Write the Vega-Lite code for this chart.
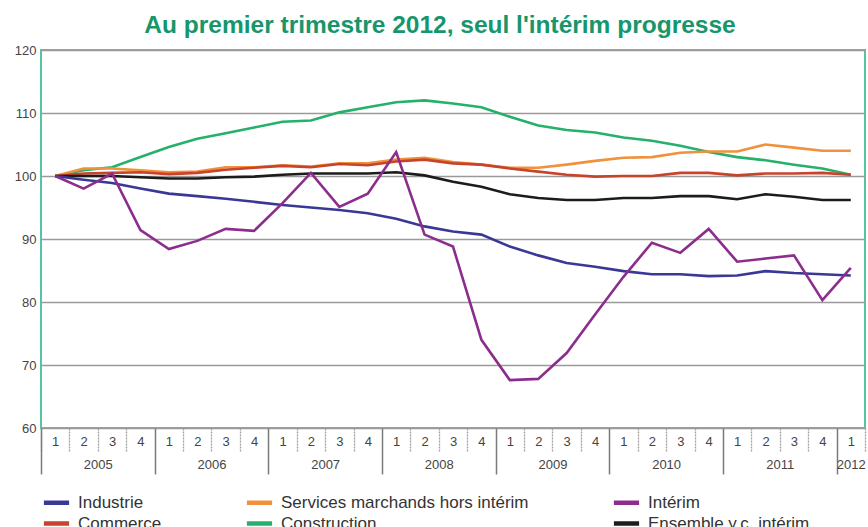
{
  "$schema": "https://vega.github.io/schema/vega-lite/v6.json",
  "width": 824,
  "height": 378,
  "autosize": {"type": "none"},
  "padding": {"left": 41, "top": 50, "right": 3, "bottom": 99},
  "background": "white",
  "title": {
    "text": "Au premier trimestre 2012, seul l'intérim progresse",
    "font": "Liberation Sans",
    "fontSize": 24.5,
    "fontWeight": "bold",
    "color": "#17966b",
    "anchor": "middle",
    "offset": 6,
    "dx": -13
  },
  "config": {
    "view": {"stroke": "#56c4a4", "strokeWidth": 2},
    "axis": {"labelFont": "Liberation Sans", "labelColor": "#444", "labelFontSize": 13}
  },
  "data": {
    "values": [
      {"serie": "Construction", "i": 0, "v": 100}, {"serie": "Construction", "i": 1, "v": 100.9}, {"serie": "Construction", "i": 2, "v": 101.4}, {"serie": "Construction", "i": 3, "v": 103.0}, {"serie": "Construction", "i": 4, "v": 104.6}, {"serie": "Construction", "i": 5, "v": 105.9}, {"serie": "Construction", "i": 6, "v": 106.8}, {"serie": "Construction", "i": 7, "v": 107.7}, {"serie": "Construction", "i": 8, "v": 108.6}, {"serie": "Construction", "i": 9, "v": 108.8}, {"serie": "Construction", "i": 10, "v": 110.1}, {"serie": "Construction", "i": 11, "v": 110.9}, {"serie": "Construction", "i": 12, "v": 111.7}, {"serie": "Construction", "i": 13, "v": 112.0}, {"serie": "Construction", "i": 14, "v": 111.5}, {"serie": "Construction", "i": 15, "v": 110.9}, {"serie": "Construction", "i": 16, "v": 109.4}, {"serie": "Construction", "i": 17, "v": 108.0}, {"serie": "Construction", "i": 18, "v": 107.3}, {"serie": "Construction", "i": 19, "v": 106.9}, {"serie": "Construction", "i": 20, "v": 106.1}, {"serie": "Construction", "i": 21, "v": 105.6}, {"serie": "Construction", "i": 22, "v": 104.8}, {"serie": "Construction", "i": 23, "v": 103.8}, {"serie": "Construction", "i": 24, "v": 103.0}, {"serie": "Construction", "i": 25, "v": 102.5}, {"serie": "Construction", "i": 26, "v": 101.8}, {"serie": "Construction", "i": 27, "v": 101.2}, {"serie": "Construction", "i": 28, "v": 100.2},
      {"serie": "Services marchands hors intérim", "i": 0, "v": 100}, {"serie": "Services marchands hors intérim", "i": 1, "v": 101.2}, {"serie": "Services marchands hors intérim", "i": 2, "v": 101.2}, {"serie": "Services marchands hors intérim", "i": 3, "v": 100.9}, {"serie": "Services marchands hors intérim", "i": 4, "v": 100.6}, {"serie": "Services marchands hors intérim", "i": 5, "v": 100.7}, {"serie": "Services marchands hors intérim", "i": 6, "v": 101.4}, {"serie": "Services marchands hors intérim", "i": 7, "v": 101.4}, {"serie": "Services marchands hors intérim", "i": 8, "v": 101.7}, {"serie": "Services marchands hors intérim", "i": 9, "v": 101.5}, {"serie": "Services marchands hors intérim", "i": 10, "v": 102.0}, {"serie": "Services marchands hors intérim", "i": 11, "v": 102.0}, {"serie": "Services marchands hors intérim", "i": 12, "v": 102.6}, {"serie": "Services marchands hors intérim", "i": 13, "v": 102.9}, {"serie": "Services marchands hors intérim", "i": 14, "v": 102.2}, {"serie": "Services marchands hors intérim", "i": 15, "v": 101.8}, {"serie": "Services marchands hors intérim", "i": 16, "v": 101.3}, {"serie": "Services marchands hors intérim", "i": 17, "v": 101.3}, {"serie": "Services marchands hors intérim", "i": 18, "v": 101.8}, {"serie": "Services marchands hors intérim", "i": 19, "v": 102.4}, {"serie": "Services marchands hors intérim", "i": 20, "v": 102.9}, {"serie": "Services marchands hors intérim", "i": 21, "v": 103.0}, {"serie": "Services marchands hors intérim", "i": 22, "v": 103.7}, {"serie": "Services marchands hors intérim", "i": 23, "v": 103.9}, {"serie": "Services marchands hors intérim", "i": 24, "v": 103.9}, {"serie": "Services marchands hors intérim", "i": 25, "v": 105.0}, {"serie": "Services marchands hors intérim", "i": 26, "v": 104.5}, {"serie": "Services marchands hors intérim", "i": 27, "v": 104.0}, {"serie": "Services marchands hors intérim", "i": 28, "v": 104.0},
      {"serie": "Commerce", "i": 0, "v": 100}, {"serie": "Commerce", "i": 1, "v": 100.4}, {"serie": "Commerce", "i": 2, "v": 100.5}, {"serie": "Commerce", "i": 3, "v": 100.6}, {"serie": "Commerce", "i": 4, "v": 100.3}, {"serie": "Commerce", "i": 5, "v": 100.5}, {"serie": "Commerce", "i": 6, "v": 101.0}, {"serie": "Commerce", "i": 7, "v": 101.3}, {"serie": "Commerce", "i": 8, "v": 101.6}, {"serie": "Commerce", "i": 9, "v": 101.4}, {"serie": "Commerce", "i": 10, "v": 101.9}, {"serie": "Commerce", "i": 11, "v": 101.7}, {"serie": "Commerce", "i": 12, "v": 102.3}, {"serie": "Commerce", "i": 13, "v": 102.6}, {"serie": "Commerce", "i": 14, "v": 102.0}, {"serie": "Commerce", "i": 15, "v": 101.8}, {"serie": "Commerce", "i": 16, "v": 101.2}, {"serie": "Commerce", "i": 17, "v": 100.7}, {"serie": "Commerce", "i": 18, "v": 100.2}, {"serie": "Commerce", "i": 19, "v": 99.9}, {"serie": "Commerce", "i": 20, "v": 100.0}, {"serie": "Commerce", "i": 21, "v": 100.0}, {"serie": "Commerce", "i": 22, "v": 100.5}, {"serie": "Commerce", "i": 23, "v": 100.5}, {"serie": "Commerce", "i": 24, "v": 100.1}, {"serie": "Commerce", "i": 25, "v": 100.4}, {"serie": "Commerce", "i": 26, "v": 100.4}, {"serie": "Commerce", "i": 27, "v": 100.5}, {"serie": "Commerce", "i": 28, "v": 100.2},
      {"serie": "Ensemble y.c. intérim", "i": 0, "v": 100}, {"serie": "Ensemble y.c. intérim", "i": 1, "v": 100.0}, {"serie": "Ensemble y.c. intérim", "i": 2, "v": 100.0}, {"serie": "Ensemble y.c. intérim", "i": 3, "v": 99.8}, {"serie": "Ensemble y.c. intérim", "i": 4, "v": 99.6}, {"serie": "Ensemble y.c. intérim", "i": 5, "v": 99.6}, {"serie": "Ensemble y.c. intérim", "i": 6, "v": 99.8}, {"serie": "Ensemble y.c. intérim", "i": 7, "v": 99.9}, {"serie": "Ensemble y.c. intérim", "i": 8, "v": 100.2}, {"serie": "Ensemble y.c. intérim", "i": 9, "v": 100.4}, {"serie": "Ensemble y.c. intérim", "i": 10, "v": 100.4}, {"serie": "Ensemble y.c. intérim", "i": 11, "v": 100.4}, {"serie": "Ensemble y.c. intérim", "i": 12, "v": 100.6}, {"serie": "Ensemble y.c. intérim", "i": 13, "v": 100.1}, {"serie": "Ensemble y.c. intérim", "i": 14, "v": 99.1}, {"serie": "Ensemble y.c. intérim", "i": 15, "v": 98.3}, {"serie": "Ensemble y.c. intérim", "i": 16, "v": 97.1}, {"serie": "Ensemble y.c. intérim", "i": 17, "v": 96.5}, {"serie": "Ensemble y.c. intérim", "i": 18, "v": 96.2}, {"serie": "Ensemble y.c. intérim", "i": 19, "v": 96.2}, {"serie": "Ensemble y.c. intérim", "i": 20, "v": 96.5}, {"serie": "Ensemble y.c. intérim", "i": 21, "v": 96.5}, {"serie": "Ensemble y.c. intérim", "i": 22, "v": 96.8}, {"serie": "Ensemble y.c. intérim", "i": 23, "v": 96.8}, {"serie": "Ensemble y.c. intérim", "i": 24, "v": 96.3}, {"serie": "Ensemble y.c. intérim", "i": 25, "v": 97.1}, {"serie": "Ensemble y.c. intérim", "i": 26, "v": 96.7}, {"serie": "Ensemble y.c. intérim", "i": 27, "v": 96.2}, {"serie": "Ensemble y.c. intérim", "i": 28, "v": 96.2},
      {"serie": "Industrie", "i": 0, "v": 100}, {"serie": "Industrie", "i": 1, "v": 99.4}, {"serie": "Industrie", "i": 2, "v": 98.9}, {"serie": "Industrie", "i": 3, "v": 98.0}, {"serie": "Industrie", "i": 4, "v": 97.2}, {"serie": "Industrie", "i": 5, "v": 96.8}, {"serie": "Industrie", "i": 6, "v": 96.4}, {"serie": "Industrie", "i": 7, "v": 95.9}, {"serie": "Industrie", "i": 8, "v": 95.4}, {"serie": "Industrie", "i": 9, "v": 95.0}, {"serie": "Industrie", "i": 10, "v": 94.6}, {"serie": "Industrie", "i": 11, "v": 94.1}, {"serie": "Industrie", "i": 12, "v": 93.2}, {"serie": "Industrie", "i": 13, "v": 92.0}, {"serie": "Industrie", "i": 14, "v": 91.2}, {"serie": "Industrie", "i": 15, "v": 90.7}, {"serie": "Industrie", "i": 16, "v": 88.8}, {"serie": "Industrie", "i": 17, "v": 87.4}, {"serie": "Industrie", "i": 18, "v": 86.2}, {"serie": "Industrie", "i": 19, "v": 85.6}, {"serie": "Industrie", "i": 20, "v": 84.9}, {"serie": "Industrie", "i": 21, "v": 84.4}, {"serie": "Industrie", "i": 22, "v": 84.4}, {"serie": "Industrie", "i": 23, "v": 84.1}, {"serie": "Industrie", "i": 24, "v": 84.2}, {"serie": "Industrie", "i": 25, "v": 84.9}, {"serie": "Industrie", "i": 26, "v": 84.6}, {"serie": "Industrie", "i": 27, "v": 84.4}, {"serie": "Industrie", "i": 28, "v": 84.2},
      {"serie": "Intérim", "i": 0, "v": 100}, {"serie": "Intérim", "i": 1, "v": 98.0}, {"serie": "Intérim", "i": 2, "v": 100.4}, {"serie": "Intérim", "i": 3, "v": 91.4}, {"serie": "Intérim", "i": 4, "v": 88.4}, {"serie": "Intérim", "i": 5, "v": 89.7}, {"serie": "Intérim", "i": 6, "v": 91.6}, {"serie": "Intérim", "i": 7, "v": 91.3}, {"serie": "Intérim", "i": 8, "v": 95.7}, {"serie": "Intérim", "i": 9, "v": 100.5}, {"serie": "Intérim", "i": 10, "v": 95.1}, {"serie": "Intérim", "i": 11, "v": 97.2}, {"serie": "Intérim", "i": 12, "v": 103.8}, {"serie": "Intérim", "i": 13, "v": 90.7}, {"serie": "Intérim", "i": 14, "v": 88.8}, {"serie": "Intérim", "i": 15, "v": 74.0}, {"serie": "Intérim", "i": 16, "v": 67.6}, {"serie": "Intérim", "i": 17, "v": 67.8}, {"serie": "Intérim", "i": 18, "v": 71.9}, {"serie": "Intérim", "i": 19, "v": 78.0}, {"serie": "Intérim", "i": 20, "v": 84.0}, {"serie": "Intérim", "i": 21, "v": 89.4}, {"serie": "Intérim", "i": 22, "v": 87.8}, {"serie": "Intérim", "i": 23, "v": 91.6}, {"serie": "Intérim", "i": 24, "v": 86.4}, {"serie": "Intérim", "i": 25, "v": 86.9}, {"serie": "Intérim", "i": 26, "v": 87.4}, {"serie": "Intérim", "i": 27, "v": 80.3}, {"serie": "Intérim", "i": 28, "v": 85.4}
    ]
  },
  "resolve": {"axis": {"x": "independent"}},
  "layer": [
    {
      "mark": {"type": "line", "strokeWidth": 2.6},
      "encoding": {
        "x": {
          "field": "i", "type": "quantitative",
          "scale": {"domain": [-0.5, 28.5], "nice": false, "zero": false},
          "axis": {
            "orient": "bottom", "title": null, "grid": false, "domain": false, "ticks": false,
            "values": [0,1,2,3,4,5,6,7,8,9,10,11,12,13,14,15,16,17,18,19,20,21,22,23,24,25,26,27,28],
            "labelExpr": "'' + (datum.value % 4 + 1)",
            "labelPadding": 7, "labelFlush": false, "labelOverlap": false
          }
        },
        "y": {
          "field": "v", "type": "quantitative",
          "scale": {"domain": [60, 120], "nice": false, "zero": false},
          "axis": {
            "title": null, "ticks": false, "domain": false,
            "values": [60, 70, 80, 90, 100, 110, 120],
            "gridColor": "#9a9a9a", "gridWidth": 1.3, "labelPadding": 5
          }
        },
        "color": {
          "field": "serie", "type": "nominal",
          "scale": {
            "domain": ["Industrie", "Services marchands hors intérim", "Intérim", "Commerce", "Construction", "Ensemble y.c. intérim"],
            "range": ["#3a3896", "#f0913c", "#8c2d8e", "#c8432c", "#25b06c", "#1c1c1c"]
          },
          "legend": {
            "orient": "none", "legendX": 4, "legendY": 441,
            "title": null, "columns": 3, "direction": "horizontal",
            "symbolType": "M-1.4,0H1.4", "symbolStrokeWidth": 4.5, "symbolSize": 324,
            "labelFont": "Liberation Sans", "labelFontSize": 17, "labelColor": "#333",
            "labelLimit": 400, "labelOffset": 10, "columnPadding": 75, "rowPadding": 0
          }
        }
      }
    },
    {
      "mark": {"type": "rule", "opacity": 0},
      "encoding": {
        "x": {
          "field": "i", "type": "quantitative",
          "scale": {"domain": [-0.5, 28.5], "nice": false, "zero": false},
          "axis": {
            "orient": "bottom", "title": null, "grid": false, "domain": false, "labels": false,
            "values": [-0.5,0.5,1.5,2.5,4.5,5.5,6.5,8.5,9.5,10.5,12.5,13.5,14.5,16.5,17.5,18.5,20.5,21.5,22.5,24.5,25.5,26.5,28.5],
            "tickSize": 24, "tickColor": "#a0a0a0", "tickWidth": 1.3, "tickDash": [2, 1]
          }
        }
      }
    },
    {
      "mark": {"type": "rule", "opacity": 0},
      "encoding": {
        "x": {
          "field": "i", "type": "quantitative",
          "scale": {"domain": [-0.5, 28.5], "nice": false, "zero": false},
          "axis": {
            "orient": "bottom", "title": null, "grid": false, "domain": false, "labels": false,
            "values": [-0.5, 3.5, 7.5, 11.5, 15.5, 19.5, 23.5, 27.5],
            "tickSize": 46, "tickColor": "#7a7a7a", "tickWidth": 1.5
          }
        }
      }
    },
    {
      "mark": {"type": "rule", "opacity": 0},
      "encoding": {
        "x": {
          "field": "i", "type": "quantitative",
          "scale": {"domain": [-0.5, 28.5], "nice": false, "zero": false},
          "axis": {
            "orient": "bottom", "title": null, "grid": false, "domain": false, "ticks": false,
            "values": [1.5, 5.5, 9.5, 13.5, 17.5, 21.5, 25.5, 28],
            "labelExpr": "'' + (2005 + floor(datum.value / 4))",
            "labelPadding": 30, "labelFlush": false, "labelOverlap": false
          }
        }
      }
    }
  ]
}
